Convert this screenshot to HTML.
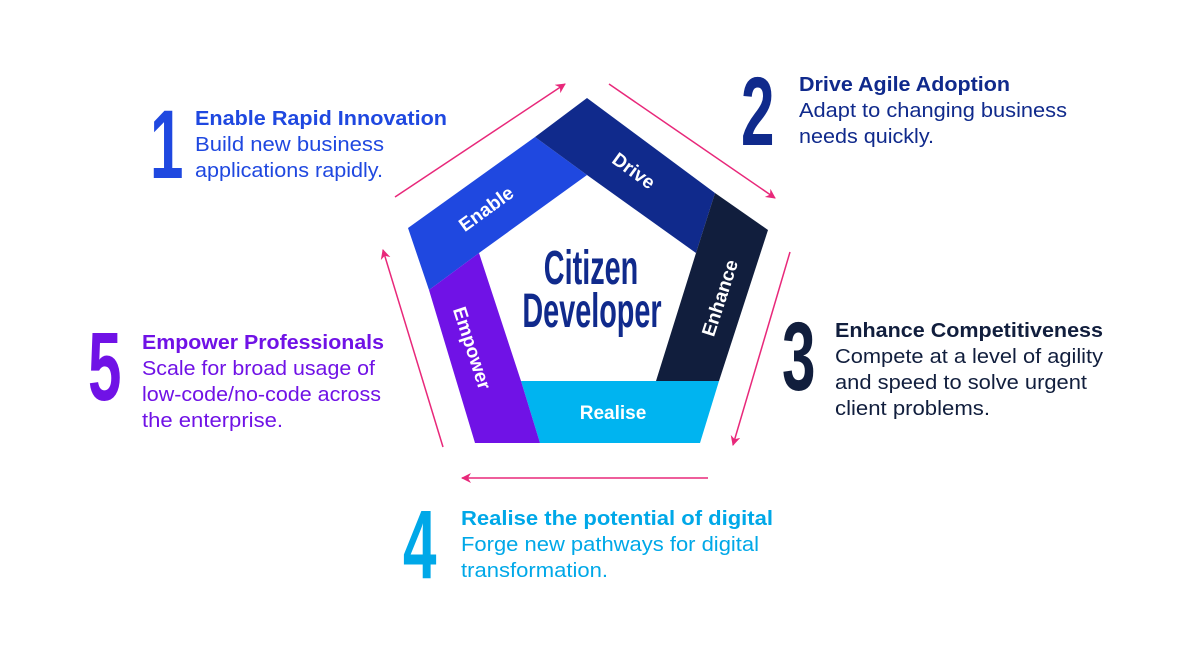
<!DOCTYPE html>
<html><head><meta charset="utf-8"><style>
html,body{margin:0;padding:0;background:#fff;}
svg{display:block;font-family:"Liberation Sans",sans-serif;}
.t{font-weight:bold;font-size:20px;}
.b{font-size:20px;}
.n{font-weight:bold;font-size:97px;}
.w{fill:#fff;font-weight:bold;font-size:19px;}
</style></head><body>
<svg width="1200" height="650" viewBox="0 0 1200 650">
<defs><marker id="ah" markerWidth="10" markerHeight="10" refX="9" refY="5" orient="auto" markerUnits="userSpaceOnUse"><path d="M0,0 L10,5 L0,10 L3,5 Z" fill="#e8287a"/></marker></defs>
<polygon points="408,228 535,137 587,175 479,253 429,290" fill="#1f48e0"/>
<polygon points="535,137 587,98 715,193 696,253 587,175" fill="#102a8c"/>
<polygon points="715,193 768,230 719,381 656,381 696,253" fill="#111e3d"/>
<polygon points="521,381 719,381 700,443 540,443" fill="#00b4f0"/>
<polygon points="429,290 479,253 521,381 540,443 475,443" fill="#7012e6"/>
<text class="w" transform="translate(490,214) rotate(-36)" text-anchor="middle">Enable</text>
<text class="w" transform="translate(630,176) rotate(36)" text-anchor="middle">Drive</text>
<text class="w" transform="translate(726,300) rotate(-72)" text-anchor="middle">Enhance</text>
<text class="w" x="613" y="419" text-anchor="middle">Realise</text>
<text class="w" transform="translate(466,350) rotate(72)" text-anchor="middle">Empower</text>
<g fill="#102a8c" font-weight="bold" font-size="48">
<text transform="translate(591,284) scale(0.6,1)" text-anchor="middle">Citizen</text>
<text transform="translate(592,327) scale(0.6,1)" text-anchor="middle">Developer</text>
</g>
<g stroke="#e8287a" stroke-width="1.5" fill="none" marker-end="url(#ah)">
<line x1="395" y1="197" x2="565" y2="84"/>
<line x1="609" y1="84" x2="775" y2="198"/>
<line x1="790" y1="252" x2="733" y2="445"/>
<line x1="708" y1="478" x2="462" y2="478"/>
<line x1="443" y1="447" x2="383" y2="250"/>
</g>
<g fill="#1f48e0" lengthAdjust="spacingAndGlyphs">
<text class="n" transform="translate(150,178) scale(0.62,1)">1</text>
<text class="t" x="195" y="125" textLength="252" lengthAdjust="spacingAndGlyphs">Enable Rapid Innovation</text>
<text class="b" x="195" y="151" textLength="189" lengthAdjust="spacingAndGlyphs">Build new business</text>
<text class="b" x="195" y="177" textLength="188" lengthAdjust="spacingAndGlyphs">applications rapidly.</text>
</g>
<g fill="#102a8c">
<text class="n" transform="translate(741,145) scale(0.62,1)">2</text>
<text class="t" x="799" y="91" textLength="211" lengthAdjust="spacingAndGlyphs">Drive Agile Adoption</text>
<text class="b" x="799" y="117" textLength="268" lengthAdjust="spacingAndGlyphs">Adapt to changing business</text>
<text class="b" x="799" y="143" textLength="135" lengthAdjust="spacingAndGlyphs">needs quickly.</text>
</g>
<g fill="#111e3d">
<text class="n" transform="translate(782,390) scale(0.62,1)">3</text>
<text class="t" x="835" y="337" textLength="268" lengthAdjust="spacingAndGlyphs">Enhance Competitiveness</text>
<text class="b" x="835" y="363" textLength="268" lengthAdjust="spacingAndGlyphs">Compete at a level of agility</text>
<text class="b" x="835" y="389" textLength="252" lengthAdjust="spacingAndGlyphs">and speed to solve urgent</text>
<text class="b" x="835" y="415" textLength="155" lengthAdjust="spacingAndGlyphs">client problems.</text>
</g>
<g fill="#00a8e8">
<text class="n" transform="translate(403,578) scale(0.62,1)">4</text>
<text class="t" x="461" y="525" textLength="312" lengthAdjust="spacingAndGlyphs">Realise the potential of digital</text>
<text class="b" x="461" y="551" textLength="298" lengthAdjust="spacingAndGlyphs">Forge new pathways for digital</text>
<text class="b" x="461" y="577" textLength="147" lengthAdjust="spacingAndGlyphs">transformation.</text>
</g>
<g fill="#7012e6">
<text class="n" transform="translate(88,400) scale(0.62,1)">5</text>
<text class="t" x="142" y="349" textLength="242" lengthAdjust="spacingAndGlyphs">Empower Professionals</text>
<text class="b" x="142" y="375" textLength="233" lengthAdjust="spacingAndGlyphs">Scale for broad usage of</text>
<text class="b" x="142" y="401" textLength="239" lengthAdjust="spacingAndGlyphs">low-code/no-code across</text>
<text class="b" x="142" y="427" textLength="141" lengthAdjust="spacingAndGlyphs">the enterprise.</text>
</g>
</svg>
</body></html>
